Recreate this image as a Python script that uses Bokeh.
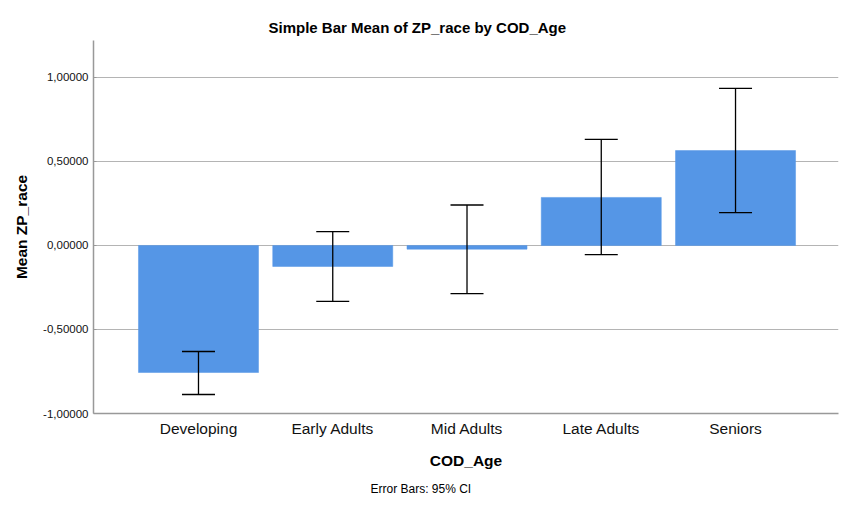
from bokeh.plotting import figure
from bokeh.models import FixedTicker, Whisker, ColumnDataSource, TeeHead, Range1d, Title
from bokeh.embed import file_html
from bokeh.resources import INLINE

categories = ["Developing", "Early Adults", "Mid Adults", "Late Adults", "Seniors"]
means = [-0.756, -0.125, -0.022, 0.286, 0.565]
ci_lower = [-0.887, -0.333, -0.287, -0.055, 0.196]
ci_upper = [-0.631, 0.083, 0.241, 0.631, 0.935]
y_ticks = [-1.0, -0.5, 0.0, 0.5, 1.0]
y_tick_labels = ["-1,00000", "-0,50000", "0,00000", "0,50000", "1,00000"]

FONT = "Liberation Sans"
xs = list(range(len(categories)))
src = ColumnDataSource(dict(x=xs, m=means, lo=ci_lower, hi=ci_upper))

p = figure(width=844, height=511, output_backend="svg", toolbar_location=None,
           x_range=Range1d(-0.782, 4.767), y_range=Range1d(-1.0, 1.22),
           min_border_left=93, min_border_right=6, min_border_top=40, min_border_bottom=98)
p.outline_line_color = None
p.background_fill_color = "white"

p.vbar(x="x", top="m", bottom=0, width=0.894, source=src,
       fill_color="#5596e6", line_color="#5596e6", line_width=0.5)

w = Whisker(base="x", lower="lo", upper="hi", source=src,
            line_color="black", line_width=1.3,
            upper_head=TeeHead(size=33, line_color="black", line_width=1.3),
            lower_head=TeeHead(size=33, line_color="black", line_width=1.3))
w.level = "overlay"
p.add_layout(w)

# axes
p.xaxis.ticker = FixedTicker(ticks=xs)
p.xaxis.major_label_overrides = {i: c for i, c in enumerate(categories)}
p.xaxis.major_label_text_font = FONT
p.xaxis.major_label_text_font_size = "15.5px"
p.xaxis.major_label_text_color = "#111111"
p.xaxis.major_tick_line_color = None
p.xaxis.minor_tick_line_color = None
p.xaxis.axis_line_color = "#999999"
p.xaxis.axis_line_width = 1.5
p.xaxis.major_label_standoff = 0
p.xaxis.axis_label = "COD_Age"
p.xaxis.axis_label_text_font = FONT
p.xaxis.axis_label_text_font_style = "bold"
p.xaxis.axis_label_text_font_size = "15.5px"
p.xaxis.axis_label_text_color = "black"
p.xaxis.axis_label_standoff = 12

p.yaxis.ticker = FixedTicker(ticks=y_ticks)
p.yaxis.major_label_overrides = {t: l for t, l in zip(y_ticks, y_tick_labels)}
p.yaxis.major_label_text_font = FONT
p.yaxis.major_label_text_font_size = "11.5px"
p.yaxis.major_label_text_color = "#111111"
p.yaxis.major_tick_in = 3
p.yaxis.major_tick_out = 0
p.yaxis.major_tick_line_color = "#999999"
p.yaxis.minor_tick_line_color = None
p.yaxis.axis_line_color = "#999999"
p.yaxis.axis_line_width = 1.5
p.yaxis.major_label_standoff = 5
p.yaxis.axis_label = "Mean ZP_race"
p.yaxis.axis_label_text_font = FONT
p.yaxis.axis_label_text_font_style = "bold"
p.yaxis.axis_label_text_font_size = "15.5px"
p.yaxis.axis_label_text_color = "black"
p.yaxis.axis_label_standoff = 10

p.xgrid.grid_line_color = None
p.ygrid.grid_line_color = "#b4b4b4"
p.ygrid.grid_line_width = 1

p.title = Title(text="Simple Bar Mean of ZP_race by COD_Age", align="left", offset=175,
                text_font=FONT, text_font_size="15px", text_font_style="bold",
                text_color="black")

foot = Title(text="Error Bars: 95% CI", align="left", offset=277,
             text_font=FONT, text_font_size="12px", text_font_style="normal",
             text_color="black", standoff=16)
p.add_layout(foot, "below")

open("out.html", "w").write(file_html(p, INLINE))
